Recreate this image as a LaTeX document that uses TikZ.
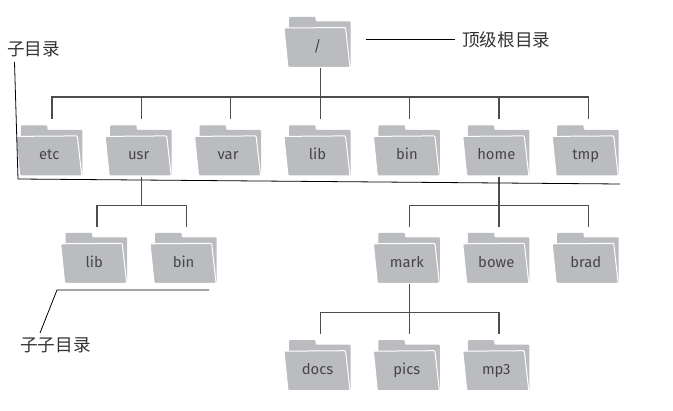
\documentclass[tikz,border=0pt]{standalone}
\usepackage{fontspec}
\setsansfont{Fira Sans}
\newfontfamily\cjk{Noto Sans CJK SC}
\usetikzlibrary{positioning,backgrounds}
\definecolor{foldergray}{HTML}{BBBCC0}
\definecolor{foldertext}{HTML}{45454A}
\definecolor{branchgray}{HTML}{4D4D4D}

\begin{document}
\begin{tikzpicture}[
	node distance=55pt and 21pt,
	folder/.style={minimum width=68pt, minimum height=52pt, inner sep=0pt,
		text height=19pt, text depth=0pt, text=foldertext, font=\sffamily\fontsize{14.8}{15}\selectfont},
	branch/.style={draw=branchgray, line width=1.3pt, shorten >=5pt},
	pointer/.style={draw=black, line width=0.8pt},
	caption/.style={inner sep=0pt, text=black!80, font=\cjk\fontsize{17.6}{18}\selectfont}
	]

	\useasboundingbox (0,0) rectangle (673pt,-411pt);

	\node[folder] (root) at (317.5pt,-42pt) {/};

	\node[folder,below =56pt of root]  (lib){lib};
	\node[folder,left =of lib]  (var){var};
	\node[folder,left =of var]  (usr){usr};
	\node[folder,left =of usr]  (etc){etc};
	\node[folder,right =of lib]  (bin){bin};
	\node[folder,right =of bin]  (home){home};
	\node[folder,right =of home]  (tmp){tmp};

	\node[folder,below =of usr,xshift=-44.5pt]  (usrlib){lib};
	\node[folder,right =of usrlib]  (usrbin){bin};
	\node[folder,below =of bin]  (mark){mark};
	\node[folder,right =of mark]  (bowe){bowe};
	\node[folder,right =of bowe]  (brad){brad};

	\node[folder,below =of mark]  (pics){pics};
	\node[folder,left =of pics]  (docs){docs};
	\node[folder,right =of pics]  (mp3){mp3};

	\begin{scope}[on background layer]
	\foreach \n in {root,etc,usr,var,lib,bin,home,tmp,usrlib,usrbin,mark,bowe,brad,docs,pics,mp3}{
		\begin{scope}[shift={(\n.center)}, x=1pt, y=1pt]
		\fill[foldergray, rounded corners=1pt] (-28.5,10) -- (-28.5,25) -- (-2,25) -- (-2,20.5) -- (33,20.5) -- (33,-25) -- (-28,-25) -- cycle;
		\filldraw[foldergray, draw=white, line width=1pt, rounded corners=1pt] (-33.5,14) -- (28,14.5) -- (32.5,-25.5) -- (-29.5,-25.5) -- cycle;
		\end{scope}
	}
	\end{scope}

	\foreach \up/\down in {root/etc,root/usr,root/var,root/lib,root/bin,root/home,root/tmp,
		usr/usrlib,usr/usrbin,home/mark,home/bowe,home/brad,mark/docs,mark/pics,mark/mp3}
		\draw[branch] ([xshift=2.7pt]\up.south) -- ++(0,-28.7pt) -| ([xshift=2.7pt]\down.north);

	\node[caption,anchor=west] (toplabel) at (462pt,-40pt) {顶级根目录};
	\node[caption,anchor=west] (sublabel) at (7pt,-49pt) {子目录};
	\node[caption,anchor=west] (subsublabel) at (20pt,-345pt) {子子目录};

	\coordinate (topstart) at (366pt,-39pt);
	\coordinate (topend) at (455pt,-39pt);
	\coordinate (subtop) at (14.5pt,-62pt);
	\coordinate (subcorner) at (18pt,-179pt);
	\coordinate (subend) at (620pt,-184pt);
	\coordinate (subsubfoot) at (40pt,-333pt);
	\coordinate (subsubcorner) at (57pt,-290pt);
	\coordinate (subsubend) at (209pt,-290pt);

	\draw[pointer] (topstart) -- (topend);
	\draw[pointer] (subtop) -- (subcorner) -- (subend);
	\draw[pointer] (subsubfoot) -- (subsubcorner) -- (subsubend);

\end{tikzpicture}
\end{document}
